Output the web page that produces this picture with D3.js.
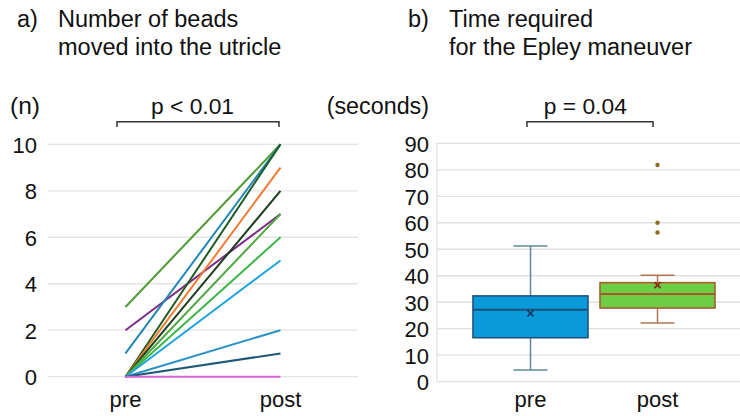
<!DOCTYPE html>
<html>
<head>
<meta charset="utf-8">
<script src="https://cdn.jsdelivr.net/npm/d3@7"></script>
<style>
body{margin:0;background:#fff;}
svg text{font-family:"Liberation Sans",Arial,sans-serif;fill:#111;}
</style>
</head>
<body>
<svg id="chart" width="740" height="416"></svg>
<script>
// panel a) beads per patient, pre -> post
var groups=["pre","post"];
var beadsPre =[3,2,1,0,0,0,0,0,0,0,0,0];
var beadsPost=[10,7,10,10,9,8,7,6,5,2,1,0];
var beadTicks=[0,2,4,6,8,10];
var lineColors=["#4f9a33","#7d2a86","#2187b3","#1e5a22","#f07c34","#1b3f1f","#4ea83f","#3db549","#1ea3df","#2a93c4","#1d5877","#d865d2"];

// panel b) Epley time box stats
var boxMin=[4.4,22.2];
var boxQ1=[16.6,27.8];
var boxMedian=[27.2,33.1];
var boxQ3=[32.4,37.4];
var boxMax=[51.2,40.2];
var boxMean=[25.8,36.5];
var postOutliers=[81.8,60,56.3];
var timeTicks=[0,10,20,30,40,50,60,70,80,90];

var svg=d3.select("#chart");
var font=22;

function title(x,label,l1,l2){
	svg.append("text").attr("x",x).attr("y",27).attr("font-size",23.5).text(label);
	svg.append("text").attr("x",x+41).attr("y",27).attr("font-size",23.5).text(l1);
	svg.append("text").attr("x",x+41).attr("y",55).attr("font-size",23.5).text(l2);
}
function bracket(x1,x2,txt,tx){
	svg.append("path")
		.attr("d","M"+x1+",127V121.7H"+x2+"V127")
		.attr("fill","none").attr("stroke","#333").attr("stroke-width",1.5);
	svg.append("text").attr("x",tx).attr("y",114).attr("text-anchor","middle")
		.attr("font-size",22.8).text(txt);
}

// ---------- a) ----------
title(17,"a)","Number of beads","moved into the utricle");
var xa=d3.scalePoint().domain(groups).range([48,358]).padding(0.5);
var ya=d3.scaleLinear().domain([0,10]).range([376.7,144.3]);

var ga=svg.append("g");
ga.selectAll(".grid").data(beadTicks).enter().append("line")
	.attr("x1",48).attr("x2",358)
	.attr("y1",function(d){return ya(d);}).attr("y2",function(d){return ya(d);})
	.attr("stroke","#e3e3e3").attr("stroke-width",1.3);
var axA=d3.axisLeft(ya).tickValues(beadTicks).tickSize(0).tickPadding(0);
ga.append("g").attr("transform","translate(37,0)").call(axA)
	.call(function(g){g.select(".domain").remove();})
	.selectAll("text").attr("font-size",font).attr("fill","#111").attr("dy","0.36em")
	.attr("font-family","Liberation Sans, Arial, sans-serif");
ga.selectAll(".pair").data(beadsPre).enter().append("line")
	.attr("x1",xa("pre")).attr("x2",xa("post"))
	.attr("y1",function(d){return ya(d);})
	.attr("y2",function(d,i){return ya(beadsPost[i]);})
	.attr("stroke",function(d,i){return lineColors[i];})
	.attr("stroke-width",2);
groups.forEach(function(g){
	svg.append("text").attr("x",xa(g)).attr("y",406.5).attr("text-anchor","middle")
		.attr("font-size",font).text(g);
});
svg.append("text").attr("x",10).attr("y",114).attr("font-size",24.5).text("(n)");
bracket(xa("pre")-8.5,xa("post")-1.5,"p < 0.01",192.5);

// ---------- b) ----------
title(408,"b)","Time required","for the Epley maneuver");
var xb=d3.scaleBand().domain(groups).range([437,751]).paddingInner(0.094).paddingOuter(0.283);
var yb=d3.scaleLinear().domain([0,90]).range([381.7,143.3]);

var gb=svg.append("g");
gb.selectAll(".grid").data(timeTicks).enter().append("line")
	.attr("x1",437).attr("x2",751)
	.attr("y1",function(d){return yb(d);}).attr("y2",function(d){return yb(d);})
	.attr("stroke","#e0e0e0").attr("stroke-width",1.3);
gb.append("line").attr("x1",437).attr("x2",437).attr("y1",yb(90)).attr("y2",yb(0))
	.attr("stroke","#e0e0e0").attr("stroke-width",1.3);
var axB=d3.axisLeft(yb).tickValues(timeTicks).tickSize(0).tickPadding(0);
gb.append("g").attr("transform","translate(429,0)").call(axB)
	.call(function(g){g.select(".domain").remove();})
	.selectAll("text").attr("font-size",font).attr("fill","#111").attr("dy","0.36em")
	.attr("font-family","Liberation Sans, Arial, sans-serif");

var boxStyle=[
	{fill:"#0a9ad9",stroke:"#1d4f79",whisk:"#5c8898",mean:"#1b3f66"},
	{fill:"#6dcd45",stroke:"#a8582a",whisk:"#b27452",mean:"#8a2c10"}
];
var bw=xb.bandwidth(),cap=34;
groups.forEach(function(g,i){
	var st=boxStyle[i],x0=xb(g),cx=x0+bw/2;
	// whiskers
	gb.append("line").attr("x1",cx).attr("x2",cx).attr("y1",yb(boxMax[i])).attr("y2",yb(boxQ3[i]))
		.attr("stroke",st.whisk).attr("stroke-width",1.5);
	gb.append("line").attr("x1",cx).attr("x2",cx).attr("y1",yb(boxQ1[i])).attr("y2",yb(boxMin[i]))
		.attr("stroke",st.whisk).attr("stroke-width",1.5);
	[boxMax[i],boxMin[i]].forEach(function(v){
		gb.append("line").attr("x1",cx-cap/2).attr("x2",cx+cap/2).attr("y1",yb(v)).attr("y2",yb(v))
			.attr("stroke",st.whisk).attr("stroke-width",1.5);
	});
	gb.append("rect").attr("x",x0).attr("width",bw)
		.attr("y",yb(boxQ3[i])).attr("height",yb(boxQ1[i])-yb(boxQ3[i]))
		.attr("fill",st.fill).attr("stroke",st.stroke).attr("stroke-width",1.5);
	gb.append("line").attr("x1",x0).attr("x2",x0+bw).attr("y1",yb(boxMedian[i])).attr("y2",yb(boxMedian[i]))
		.attr("stroke",st.stroke).attr("stroke-width",2);
	// mean marker
	var my=yb(boxMean[i]),s=3;
	gb.append("path").attr("d","M"+(cx-s)+","+(my-s)+"L"+(cx+s)+","+(my+s)+"M"+(cx+s)+","+(my-s)+"L"+(cx-s)+","+(my+s))
		.attr("stroke",st.mean).attr("stroke-width",1.8);
	svg.append("text").attr("x",cx).attr("y",406.5).attr("text-anchor","middle")
		.attr("font-size",font).text(g);
});
gb.selectAll(".out").data(postOutliers).enter().append("circle")
	.attr("cx",xb("post")+bw/2).attr("cy",function(d){return yb(d);})
	.attr("r",2.2).attr("fill","#8e6c1c");

svg.append("text").attr("x",429).attr("y",114).attr("text-anchor","end").attr("font-size",23.3).text("(seconds)");
bracket(xb("pre")+bw/2-3.5,xb("post")+bw/2-4.5,"p = 0.04",585.3);
</script>
</body>
</html>
